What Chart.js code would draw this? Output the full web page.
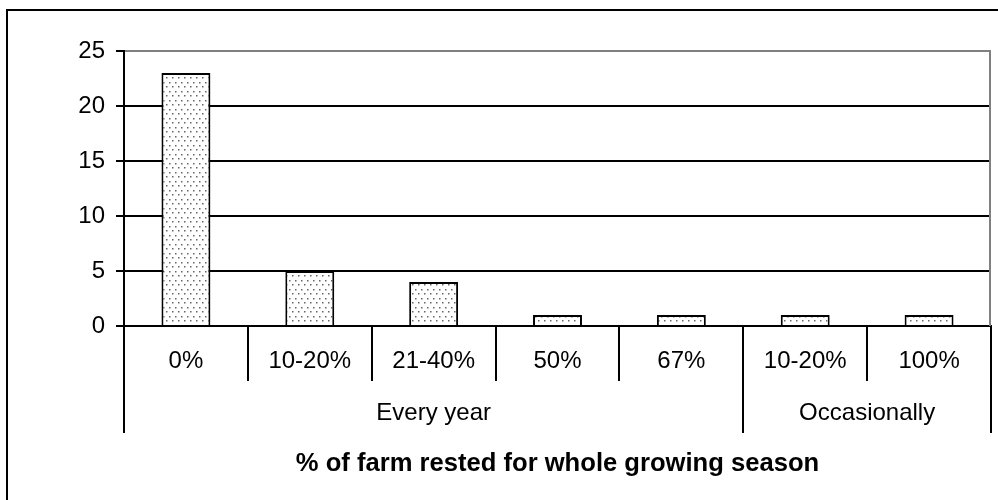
<!DOCTYPE html>
<html>
<head>
<meta charset="utf-8">
<script src="https://cdn.jsdelivr.net/npm/chart.js@4/dist/chart.umd.min.js"></script>
<style>
  html, body { margin: 0; padding: 0; background: #fff; overflow: hidden; }
  #wrap { width: 998px; height: 500px; }
</style>
</head>
<body>
<div id="wrap"><canvas id="restChart" width="998" height="500"></canvas></div>
<script>
const categories = ['0%', '10-20%', '21-40%', '50%', '67%', '10-20%', '100%'];
const farmCounts = [23, 5, 4, 1, 1, 1, 1];
const groupNames = ['Every year', 'Occasionally'];
const groupSizes = [5, 2];
const yMax = 25;
const yStep = 5;

const FONT = '"Liberation Sans", Arial, sans-serif';

// dotted fill for the bars
function dotPattern() {
    const tile = document.createElement('canvas');
    tile.width = 6;
    tile.height = 9;
    const c = tile.getContext('2d');
    c.fillStyle = '#fff';
    c.fillRect(0, 0, 6, 9);
    c.fillStyle = '#666';
    c.fillRect(1, 1, 1.5, 1.5);
    c.fillRect(4, 5, 1.5, 1.5);
    return c.createPattern(tile, 'repeat');
}

// outer frame, right edge of the plot, and the two-level category axis
const framePlugin = {
    id: 'frame',
    beforeDraw(chart) {
        const ctx = chart.ctx;
        ctx.save();
        ctx.strokeStyle = '#000';
        ctx.lineWidth = 2;
        ctx.strokeRect(7, 10, 1020, 520);
        ctx.restore();
    },
    afterDraw(chart) {
        const ctx = chart.ctx;
        const x = chart.scales.x;
        const area = chart.chartArea;
        const half = (x.getPixelForValue(1) - x.getPixelForValue(0)) / 2;
        const edge = i => x.getPixelForValue(i) - half;

        ctx.save();
        ctx.strokeStyle = '#808080';
        ctx.lineWidth = 2;
        ctx.beginPath();
        ctx.moveTo(area.right - 1, area.top - 1);
        ctx.lineTo(area.right - 1, area.bottom);
        ctx.stroke();

        // group boundaries run through both label rows
        const groupEdges = [0];
        groupSizes.forEach(n => groupEdges.push(groupEdges[groupEdges.length - 1] + n));

        ctx.strokeStyle = '#000';
        for (let i = 0; i <= categories.length; i++) {
            const px = Math.round(edge(i));
            const long = groupEdges.includes(i);
            ctx.beginPath();
            ctx.moveTo(px, area.bottom);
            ctx.lineTo(px, area.bottom + (long ? 107 : 55));
            ctx.stroke();
        }

        ctx.fillStyle = '#000';
        ctx.font = '24px ' + FONT;
        ctx.textAlign = 'center';
        ctx.textBaseline = 'middle';
        groupNames.forEach((name, g) => {
            const cx = (edge(groupEdges[g]) + edge(groupEdges[g + 1])) / 2;
            ctx.fillText(name, cx, area.bottom + 87);
        });
        ctx.restore();
    }
};

new Chart(document.getElementById('restChart').getContext('2d'), {
    type: 'bar',
    data: {
        labels: categories,
        datasets: [{
            data: farmCounts,
            backgroundColor: dotPattern(),
            borderColor: '#000',
            borderWidth: 2,
            borderSkipped: 'bottom',
            categoryPercentage: 1,
            barPercentage: 0.395
        }]
    },
    options: {
        responsive: false,
        animation: false,
        devicePixelRatio: 1,
        layout: { padding: { top: 51, right: 7, left: 0, bottom: 0 } },
        plugins: {
            legend: { display: false },
            tooltip: { enabled: false }
        },
        scales: {
            x: {
                afterFit(scale) { scale.height = 174; },
                grid: { display: false, drawTicks: false },
                border: { display: true, color: '#000', width: 2 },
                ticks: {
                    color: '#000',
                    padding: 21,
                    maxRotation: 0,
                    autoSkip: false,
                    font: { family: FONT, size: 24 }
                },
                title: {
                    display: true,
                    text: '% of farm rested for whole growing season',
                    color: '#000',
                    font: { family: FONT, size: 25.6, weight: 'bold' },
                    padding: { top: 0, bottom: 21 }
                }
            },
            y: {
                min: 0,
                max: yMax,
                afterFit(scale) { scale.width = 124; },
                ticks: {
                    stepSize: yStep,
                    color: '#000',
                    padding: 11,
                    font: { family: FONT, size: 24 }
                },
                grid: {
                    color: c => (c.tick && c.tick.value === yMax ? '#808080' : '#000'),
                    lineWidth: 2,
                    drawTicks: true,
                    tickLength: 8,
                    tickColor: '#000',
                    tickWidth: 2
                },
                border: { display: true, color: '#000', width: 2 }
            }
        }
    },
    plugins: [framePlugin]
});
</script>
</body>
</html>
